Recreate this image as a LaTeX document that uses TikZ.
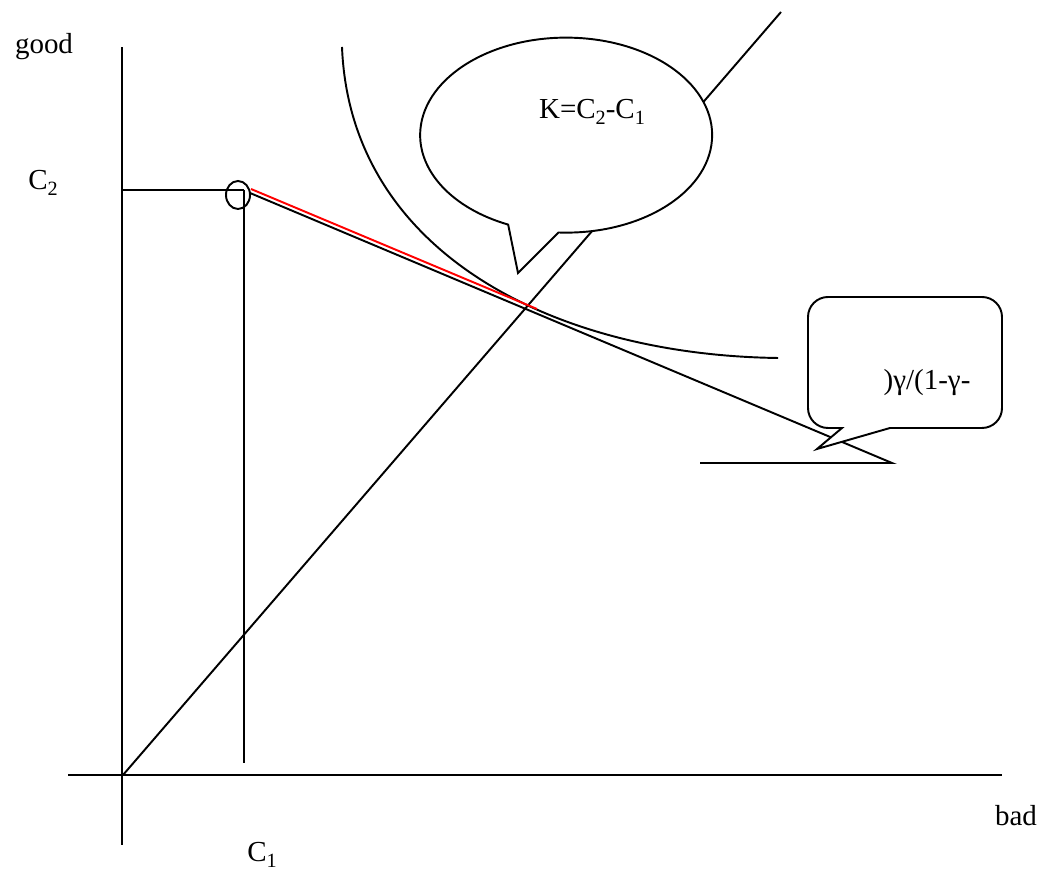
\documentclass[tikz,border=0pt]{standalone}
\usepackage{fontspec}
\setmainfont{Liberation Serif}
\usetikzlibrary{calc}
\newcommand{\lowsub}[1]{\raisebox{-0.45ex}{\fontsize{11.5}{12}\selectfont #1}}

\begin{document}
\begin{tikzpicture}[
  every node/.style={font=\fontsize{16.5}{20}\selectfont, inner sep=0pt},
  ln/.style={line width=1.1pt},
  bubble/.style={line width=1.1pt, fill=white, line join=miter},
]
\useasboundingbox (0,0) rectangle (20.82,17.7);
% axes
\coordinate (o) at (2.46,2.2);
\draw[ln] (2.44,0.8) -- (2.44,16.76);
\draw[ln] (1.36,2.2) -- (20.04,2.2);
\node (good) at (0.88,16.76) {good};
\node (bad)  at (20.32,1.38) {bad};
% endowment point
\coordinate (e) at (4.88,13.9);
\draw[ln] (e) -- (4.88,2.44);
\draw[ln] (e) -- (2.44,13.9);
\draw[ln] (4.76,13.8) ellipse[x radius=0.24, y radius=0.28];
\node (c2) at (0.86,14.04) {C\lowsub{2}};
\node (c1) at (5.24,0.6)   {C\lowsub{1}};
% certainty line
\coordinate (top) at (15.62,17.46);
\draw[ln] (o) -- (top);
% indifference curve
\draw[ln] (6.84,16.76) .. controls (7.0,12.7) and (11.0,10.6) .. (15.56,10.54);
% budget lines
\draw[ln] (5.0,13.84) -- (17.84,8.44) -- (14.0,8.44);
\draw[ln, red] (5.02,13.92) -- (10.74,11.52);
% callouts
\draw[bubble] (10.36,12.24) -- (11.17,13.05)
  arc[start angle=267, end angle=606.6, x radius=2.92, y radius=1.95] -- cycle;
\node (k) at (11.84,15.46) {K=C\lowsub{2}-C\lowsub{1}};
\draw[bubble] (16.34,8.72) -- (17.8,9.14) [rounded corners=0.4cm]
  -- (20.04,9.14) -- (20.04,11.76) -- (16.16,11.76) -- (16.16,9.14)
  [sharp corners] -- (16.84,9.14) -- cycle;
\node (g) at (18.54,10.04) {)γ/(1-γ-};
\end{tikzpicture}
\end{document}
